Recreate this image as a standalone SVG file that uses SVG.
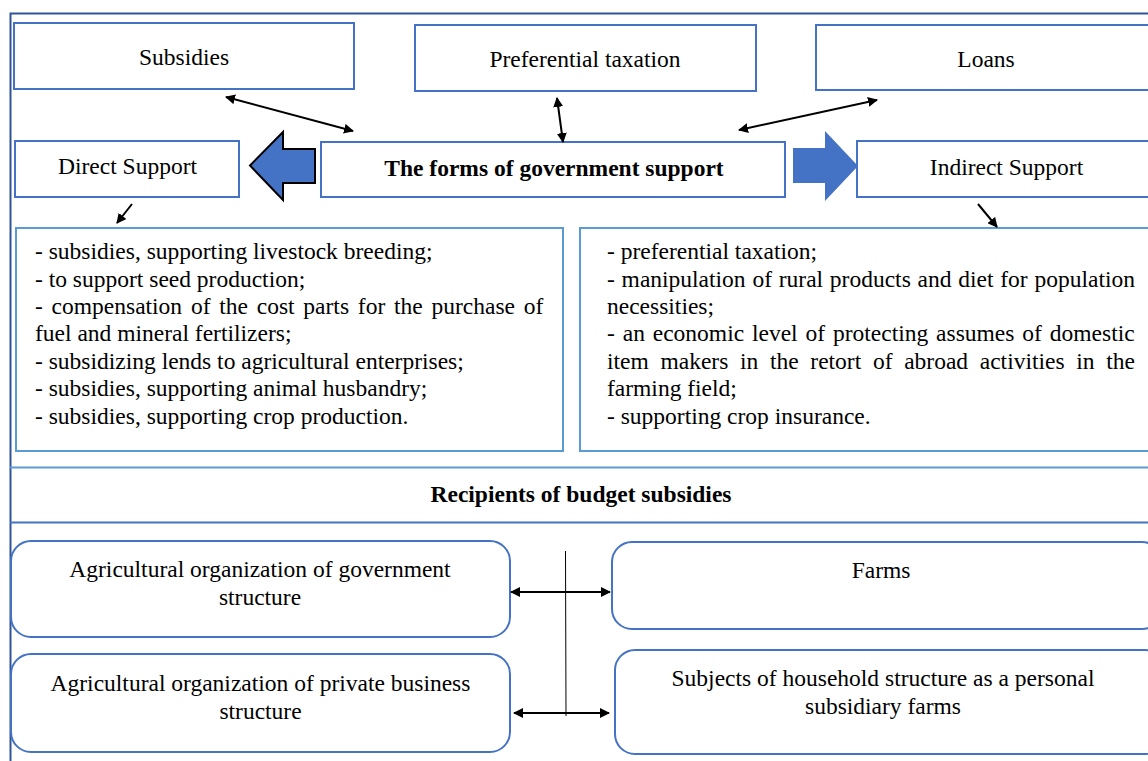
<svg xmlns="http://www.w3.org/2000/svg" width="1148" height="761" viewBox="0 0 1148 761">
<style>
.box{fill:#fff;stroke:#4472C4;stroke-width:2}
.lbox{fill:#fff;stroke:#5B9BD5;stroke-width:2}
.frame{fill:none;stroke:#2F5597;stroke-width:2}
.t{font-size:23.5px;fill:#000}
.c{text-anchor:middle}
.b{font-weight:bold}
.con{stroke:#000;stroke-width:2;fill:none}
</style>
<defs>
<marker id="ah" viewBox="0 0 10 10" refX="9" refY="5" markerWidth="5" markerHeight="5" orient="auto-start-reverse" markerUnits="strokeWidth">
<path d="M0,0 L10,5 L0,10 z" fill="#000"/>
</marker>
</defs>
<rect width="1148" height="761" fill="#fff"/>
<g font-family="'Liberation Serif', 'Times New Roman', Tinos, serif">
<g id="frame">
<path class="frame" d="M10.5,761 V13.5 H1148"/>
<line x1="10" y1="467.5" x2="1148" y2="467.5" stroke="#5B9BD5" stroke-width="2"/>
<line x1="10" y1="522.5" x2="1148" y2="522.5" stroke="#4472C4" stroke-width="2"/>
</g>
<g id="subsidies">
<rect class="box" x="14" y="23" width="340" height="66"/>
<text class="t c" x="184" y="65">Subsidies</text>
</g>
<g id="preferential">
<rect class="box" x="415" y="25" width="341" height="66"/>
<text class="t c" x="585" y="67">Preferential taxation</text>
</g>
<g id="loans">
<rect class="box" x="816" y="25" width="340" height="65"/>
<text class="t c" x="986" y="67">Loans</text>
</g>
<g id="direct">
<rect class="box" x="15" y="141" width="224" height="56"/>
<text class="t c" x="127.5" y="174">Direct Support</text>
</g>
<g id="forms">
<rect class="box" x="321" y="142" width="464" height="55"/>
<text class="t c b" x="554" y="176">The forms of government support</text>
</g>
<g id="indirect">
<rect class="box" x="857" y="141" width="300" height="56"/>
<text class="t c" x="1006.5" y="175">Indirect Support</text>
</g>
<g id="direct-list">
<rect class="lbox" x="16" y="228" width="547" height="223"/>
<text class="t" x="35" y="259">- subsidies, supporting livestock breeding;</text>
<text class="t" x="35" y="287">- to support seed production;</text>
<text class="t" x="35" y="314" word-spacing="2.9">- compensation of the cost parts for the purchase of</text>
<text class="t" x="35" y="341">fuel and mineral fertilizers;</text>
<text class="t" x="35" y="369">- subsidizing lends to agricultural enterprises;</text>
<text class="t" x="35" y="396">- subsidies, supporting animal husbandry;</text>
<text class="t" x="35" y="424">- subsidies, supporting crop production.</text>
</g>
<g id="indirect-list">
<rect class="lbox" x="580" y="228" width="580" height="223"/>
<text class="t" x="607" y="259">- preferential taxation;</text>
<text class="t" x="607" y="287" word-spacing="0.9">- manipulation of rural products and diet for population</text>
<text class="t" x="607" y="314">necessities;</text>
<text class="t" x="607" y="341" word-spacing="2">- an economic level of protecting assumes of domestic</text>
<text class="t" x="607" y="369" word-spacing="5.8">item makers in the retort of abroad activities in the</text>
<text class="t" x="607" y="396">farming field;</text>
<text class="t" x="607" y="424">- supporting crop insurance.</text>
</g>
<g id="recipients">
<text class="t c b" x="581" y="502">Recipients of budget subsidies</text>
</g>
<g id="gov-org">
<rect class="box" x="11" y="541" width="499" height="96" rx="20"/>
<text class="t c" x="260" y="577">Agricultural organization of government</text>
<text class="t c" x="260" y="605">structure</text>
</g>
<g id="private-org">
<rect class="box" x="11" y="654" width="499" height="98" rx="20"/>
<text class="t c" x="260.5" y="691">Agricultural organization of private business</text>
<text class="t c" x="260.5" y="719">structure</text>
</g>
<g id="farms">
<rect class="box" x="612" y="542" width="550" height="87" rx="20"/>
<text class="t c" x="881" y="578">Farms</text>
</g>
<g id="household">
<rect class="box" x="615" y="650" width="550" height="104" rx="20"/>
<text class="t c" x="883" y="686">Subjects of household structure as a personal</text>
<text class="t c" x="883" y="714">subsidiary farms</text>
</g>
<g id="block-arrows">
<path d="M315,149 H283 V132 L250,165.5 L283,200 V183 H315 Z" fill="#4472C4" stroke="#000" stroke-width="2" stroke-linejoin="miter"/>
<path d="M793,148 H825 V131 L858,166 L825,201 V183 H793 Z" fill="#4472C4"/>
</g>
<g id="connectors">
<line class="con" x1="226" y1="97" x2="353" y2="131" marker-start="url(#ah)" marker-end="url(#ah)"/>
<line class="con" x1="557" y1="98" x2="563" y2="142" marker-start="url(#ah)" marker-end="url(#ah)"/>
<line class="con" x1="739" y1="130" x2="877" y2="100" marker-start="url(#ah)" marker-end="url(#ah)"/>
<line class="con" x1="132" y1="204" x2="117" y2="223" marker-end="url(#ah)"/>
<line class="con" x1="978" y1="204" x2="997" y2="227" marker-end="url(#ah)"/>
<line x1="565.5" y1="551" x2="566" y2="716" stroke="#000" stroke-width="1"/>
<line class="con" x1="511" y1="592" x2="610" y2="592" marker-start="url(#ah)" marker-end="url(#ah)"/>
<line class="con" x1="514" y1="713" x2="609" y2="713" marker-start="url(#ah)" marker-end="url(#ah)"/>
</g>
</g>
</svg>
